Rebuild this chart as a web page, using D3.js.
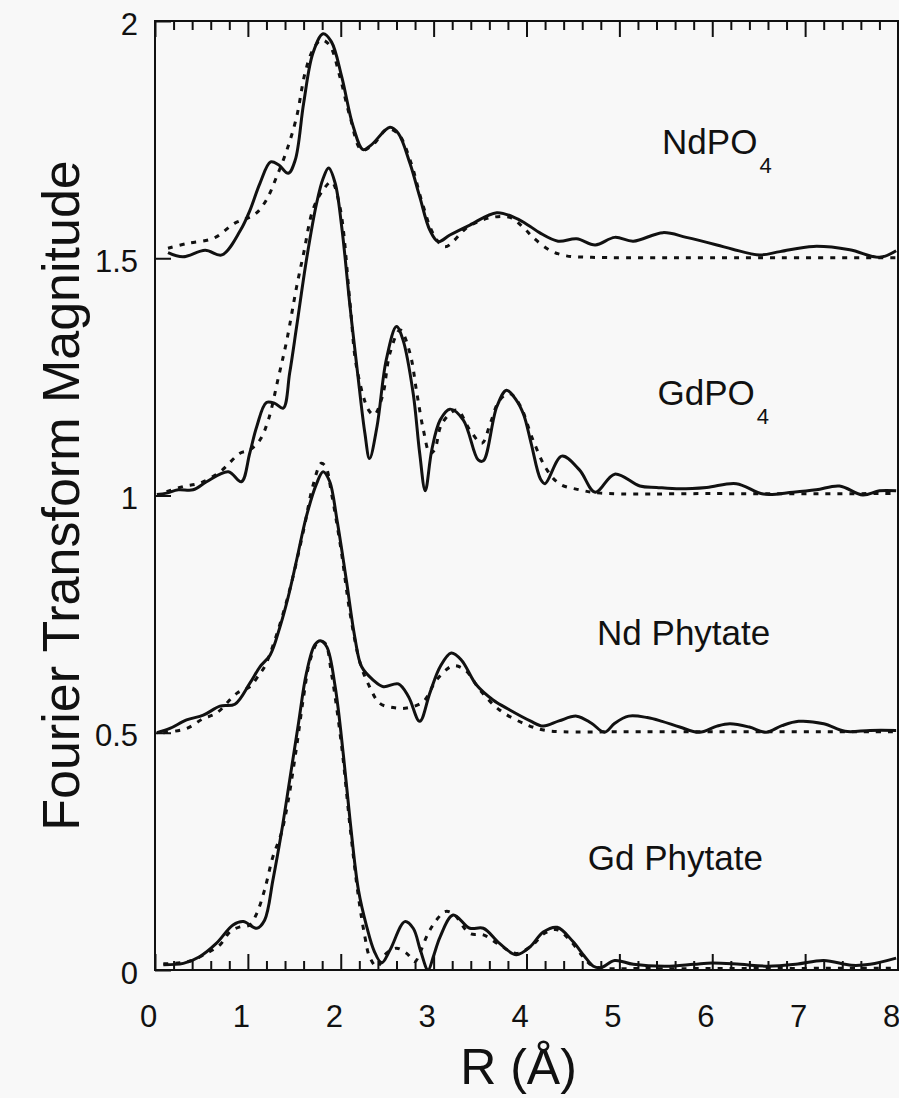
<!DOCTYPE html>
<html><head><meta charset="utf-8">
<script src="https://cdn.jsdelivr.net/npm/d3@7"></script>
<style>body{margin:0;background:#f8f8f8} svg{display:block}</style>
</head><body><svg id="c" width="899" height="1098"></svg>
<script>
// ---- data: [R (Å), Fourier transform magnitude (offset)] ----
const ndpo4Exp = [[0.14,1.512],[0.30,1.503],[0.54,1.517],[0.72,1.507],[0.92,1.559],[1.02,1.60],[1.13,1.658],[1.245,1.703],[1.33,1.697],[1.435,1.679],[1.51,1.707],[1.60,1.826],[1.70,1.932],[1.81,1.973],[1.90,1.956],[2.01,1.883],[2.135,1.777],[2.24,1.729],[2.33,1.739],[2.53,1.776],[2.62,1.763],[2.745,1.700],[2.85,1.630],[2.96,1.559],[3.05,1.535],[3.175,1.549],[3.39,1.570],[3.68,1.596],[3.89,1.584],[4.04,1.567],[4.14,1.554],[4.34,1.536],[4.54,1.541],[4.74,1.528],[4.95,1.544],[5.15,1.536],[5.47,1.554],[5.72,1.544],[6.05,1.528],[6.22,1.519],[6.51,1.507],[6.73,1.514],[7.09,1.525],[7.48,1.518],[7.80,1.502],[7.98,1.516]];
const ndpo4Fit = [[0.14,1.521],[0.34,1.531],[0.63,1.542],[0.86,1.574],[0.99,1.584],[1.09,1.595],[1.20,1.623],[1.31,1.672],[1.42,1.728],[1.525,1.798],[1.615,1.890],[1.70,1.939],[1.79,1.960],[1.88,1.949],[1.99,1.883],[2.10,1.798],[2.225,1.728],[2.35,1.740],[2.50,1.772],[2.62,1.762],[2.75,1.705],[2.88,1.615],[3.0,1.550],[3.12,1.524],[3.37,1.566],[3.60,1.585],[3.82,1.586],[3.96,1.566],[4.07,1.544],[4.25,1.517],[4.43,1.505],[4.7,1.502],[5.5,1.501],[6.5,1.501],[8.0,1.501]];
const gdpo4Exp = [[0.02,1.002],[0.125,1.005],[0.25,1.012],[0.41,1.012],[0.555,1.029],[0.79,1.05],[0.93,1.029],[1.02,1.089],[1.095,1.145],[1.20,1.196],[1.29,1.194],[1.38,1.184],[1.45,1.258],[1.525,1.356],[1.63,1.496],[1.74,1.616],[1.81,1.668],[1.87,1.690],[1.94,1.658],[2.01,1.567],[2.10,1.398],[2.19,1.243],[2.26,1.131],[2.31,1.078],[2.39,1.145],[2.49,1.286],[2.60,1.356],[2.67,1.328],[2.78,1.215],[2.85,1.089],[2.91,1.01],[2.98,1.096],[3.07,1.159],[3.175,1.182],[3.32,1.159],[3.48,1.075],[3.535,1.073],[3.68,1.187],[3.785,1.222],[3.89,1.201],[3.97,1.17],[4.05,1.11],[4.15,1.035],[4.2,1.025],[4.38,1.083],[4.57,1.054],[4.74,1.007],[4.95,1.045],[5.22,1.020],[5.40,1.017],[5.65,1.014],[5.94,1.017],[6.26,1.025],[6.55,1.003],[6.87,1.007],[7.12,1.012],[7.37,1.020],[7.62,1.001],[7.80,1.01],[7.98,1.01]];
const gdpo4Fit = [[0.125,1.008],[0.305,1.019],[0.48,1.026],[0.70,1.050],[0.915,1.089],[1.02,1.096],[1.13,1.117],[1.22,1.159],[1.33,1.250],[1.42,1.328],[1.525,1.440],[1.60,1.510],[1.70,1.602],[1.81,1.644],[1.90,1.661],[1.99,1.609],[2.10,1.405],[2.17,1.271],[2.30,1.180],[2.36,1.17],[2.45,1.21],[2.53,1.300],[2.64,1.349],[2.745,1.300],[2.82,1.215],[2.89,1.138],[2.96,1.089],[3.01,1.096],[3.09,1.152],[3.25,1.180],[3.39,1.138],[3.52,1.110],[3.61,1.152],[3.71,1.201],[3.82,1.215],[3.93,1.190],[4.07,1.117],[4.22,1.054],[4.36,1.024],[4.57,1.012],[4.8,1.005],[6,1.004],[8,1.004]];
const ndPhyExp = [[0.02,0.500],[0.16,0.509],[0.34,0.527],[0.52,0.537],[0.70,0.556],[0.86,0.560],[1.02,0.604],[1.13,0.639],[1.24,0.664],[1.345,0.723],[1.435,0.787],[1.525,0.864],[1.63,0.956],[1.74,1.025],[1.81,1.050],[1.88,1.030],[1.96,0.948],[2.06,0.822],[2.15,0.703],[2.225,0.639],[2.35,0.611],[2.46,0.597],[2.62,0.603],[2.73,0.576],[2.85,0.524],[2.96,0.584],[3.07,0.639],[3.19,0.668],[3.30,0.653],[3.46,0.601],[3.64,0.569],[3.82,0.548],[4.04,0.525],[4.18,0.514],[4.35,0.525],[4.54,0.535],[4.70,0.52],[4.84,0.501],[4.95,0.52],[5.10,0.535],[5.30,0.532],[5.46,0.524],[5.65,0.512],[5.86,0.501],[6.05,0.514],[6.19,0.519],[6.40,0.512],[6.58,0.501],[6.75,0.515],[6.93,0.524],[7.2,0.519],[7.43,0.503],[7.7,0.505],[7.98,0.505]];
const ndPhyFit = [[0.09,0.50],[0.34,0.509],[0.52,0.530],[0.66,0.541],[0.88,0.583],[1.02,0.597],[1.13,0.625],[1.18,0.639],[1.29,0.695],[1.45,0.801],[1.60,0.927],[1.70,1.02],[1.79,1.068],[1.84,1.06],[1.90,1.005],[2.0,0.89],[2.10,0.752],[2.21,0.646],[2.31,0.597],[2.42,0.562],[2.565,0.553],[2.71,0.552],[2.89,0.566],[3.03,0.611],[3.21,0.641],[3.34,0.632],[3.50,0.590],[3.71,0.548],[4.00,0.517],[4.2,0.505],[4.4,0.502],[5,0.502],[6,0.502],[8,0.502]];
const gdPhyExp = [[0.09,0.011],[0.305,0.014],[0.48,0.028],[0.66,0.056],[0.84,0.095],[0.95,0.102],[1.095,0.088],[1.18,0.105],[1.27,0.190],[1.36,0.288],[1.45,0.400],[1.545,0.520],[1.63,0.625],[1.72,0.685],[1.78,0.694],[1.85,0.681],[1.94,0.597],[2.03,0.450],[2.10,0.316],[2.19,0.169],[2.28,0.091],[2.36,0.04],[2.44,0.015],[2.53,0.042],[2.69,0.102],[2.78,0.088],[2.86,0.04],[2.94,0.0],[3.0,0.03],[3.07,0.070],[3.21,0.116],[3.39,0.088],[3.535,0.088],[3.71,0.056],[3.89,0.032],[4.04,0.049],[4.18,0.08],[4.33,0.09],[4.5,0.06],[4.62,0.03],[4.72,0.008],[4.8,0.005],[4.95,0.02],[5.15,0.012],[5.5,0.008],[5.8,0.012],[6.0,0.015],[6.3,0.012],[6.6,0.008],[6.9,0.012],[7.2,0.02],[7.5,0.01],[7.7,0.012],[7.98,0.025]];
const gdPhyFit = [[0.09,0.013],[0.36,0.018],[0.555,0.035],[0.70,0.053],[0.81,0.081],[0.915,0.091],[1.02,0.095],[1.095,0.119],[1.18,0.169],[1.27,0.239],[1.36,0.288],[1.435,0.358],[1.525,0.471],[1.60,0.576],[1.67,0.653],[1.76,0.692],[1.83,0.689],[1.90,0.625],[2.01,0.471],[2.10,0.302],[2.19,0.155],[2.26,0.070],[2.31,0.028],[2.39,0.007],[2.49,0.035],[2.60,0.046],[2.71,0.035],[2.80,0.018],[2.85,0.035],[2.94,0.077],[3.03,0.105],[3.12,0.123],[3.21,0.119],[3.39,0.077],[3.535,0.074],[3.71,0.053],[3.89,0.035],[4.05,0.05],[4.2,0.078],[4.33,0.085],[4.48,0.06],[4.6,0.03],[4.7,0.01],[4.8,0.004],[5.2,0.003],[8,0.004]];

const xMajorTicks = [0,1,2,3,4,5,6,7,8];
const yMajorTicks = [0,0.5,1,1.5,2];
const yTickLabels = ["0","0.5","1","1.5","2"];
const labels = [
  {main:"NdPO", sub:"4", R:5.46, v:1.72},
  {main:"GdPO", sub:"4", R:5.41, v:1.19},
  {main:"Nd Phytate", sub:"", R:4.76, v:0.685},
  {main:"Gd Phytate", sub:"", R:4.66, v:0.21}
];
const xTitle = "R (Å)";
const yTitle = "Fourier Transform Magnitude";

// ---- drawing ----
const svg = d3.select("#c");
const FONT = "'Liberation Sans', Arial, Helvetica, sans-serif";
const x = d3.scaleLinear().domain([0,8]).range([155,898]);
const y = d3.scaleLinear().domain([0,2]).range([970,21]);

svg.append("rect").attr("width",899).attr("height",1098).attr("fill","#f8f8f8");

svg.append("clipPath").attr("id","clip").append("rect")
  .attr("x",x(0)).attr("y",y(2)).attr("width",x(8)-x(0)).attr("height",y(0)-y(2));

const minorX = d3.range(0,8.001,0.2).map(d=>+d.toFixed(1)).filter(d=>Math.abs(d-Math.round(d))>1e-6);

function styleAxis(g){
  g.select(".domain").remove();
  g.selectAll(".tick line").attr("stroke","#111").attr("stroke-width",2);
  g.selectAll(".tick text").attr("fill","#111").style("font-family",FONT);
}

// bottom axis
const gb = svg.append("g").attr("transform",`translate(0,${y(0)})`)
  .call(d3.axisBottom(x).tickValues(xMajorTicks).tickSize(-16).tickPadding(35).tickFormat(d=>String(d)));
styleAxis(gb);
gb.selectAll(".tick text").attr("x",-7).style("font-size","31px");
const gbm = svg.append("g").attr("transform",`translate(0,${y(0)})`)
  .call(d3.axisBottom(x).tickValues(minorX).tickSize(-9).tickFormat(""));
styleAxis(gbm);

// top axis
const gt = svg.append("g").attr("transform",`translate(0,${y(2)})`)
  .call(d3.axisTop(x).tickValues(xMajorTicks).tickSize(-16).tickFormat(""));
styleAxis(gt);
const gtm = svg.append("g").attr("transform",`translate(0,${y(2)})`)
  .call(d3.axisTop(x).tickValues(minorX).tickSize(-9).tickFormat(""));
styleAxis(gtm);

// left axis
const gl = svg.append("g").attr("transform",`translate(${x(0)},0)`)
  .call(d3.axisLeft(y).tickValues(yMajorTicks).tickSize(-16).tickPadding(17)
    .tickFormat((d,i)=>yTickLabels[i]));
styleAxis(gl);
gl.selectAll(".tick text").style("font-size","31px").attr("dy","0.42em");

// frame
svg.append("rect").attr("x",x(0)).attr("y",y(2)).attr("width",x(8)-x(0)).attr("height",y(0)-y(2))
  .attr("fill","none").attr("stroke","#111").attr("stroke-width",2);

// curves
const line = d3.line().x(d=>x(d[0])).y(d=>y(d[1])).curve(d3.curveCatmullRom.alpha(0.5));
const plot = svg.append("g").attr("clip-path","url(#clip)");
[ndpo4Fit,gdpo4Fit,ndPhyFit,gdPhyFit].forEach(s=>{
  plot.append("path").attr("d",line(s)).attr("fill","none").attr("stroke","#111")
    .attr("stroke-width",3).attr("stroke-dasharray","5,7");
});
[ndpo4Exp,gdpo4Exp,ndPhyExp,gdPhyExp].forEach(s=>{
  plot.append("path").attr("d",line(s)).attr("fill","none").attr("stroke","#111")
    .attr("stroke-width",3).attr("stroke-linejoin","round");
});

// labels
labels.forEach(l=>{
  const t = svg.append("text").attr("x",x(l.R)).attr("y",y(l.v))
    .attr("fill","#111").style("font-family",FONT).style("font-size","35px");
  t.append("tspan").text(l.main);
  if(l.sub) t.append("tspan").attr("dy",19).attr("dx",2).style("font-size","22px").text(l.sub);
});

// axis titles
svg.append("text").attr("x",(x(0)+x(8))/2 - 8).attr("y",1084).attr("text-anchor","middle")
  .attr("fill","#111").style("font-family",FONT).style("font-size","50px").text(xTitle);
svg.append("text").attr("transform",`translate(79,${(y(0)+y(2))/2}) rotate(-90)`)
  .attr("text-anchor","middle").attr("fill","#111").style("font-family",FONT).style("font-size","52px").text(yTitle);
</script></body></html>
